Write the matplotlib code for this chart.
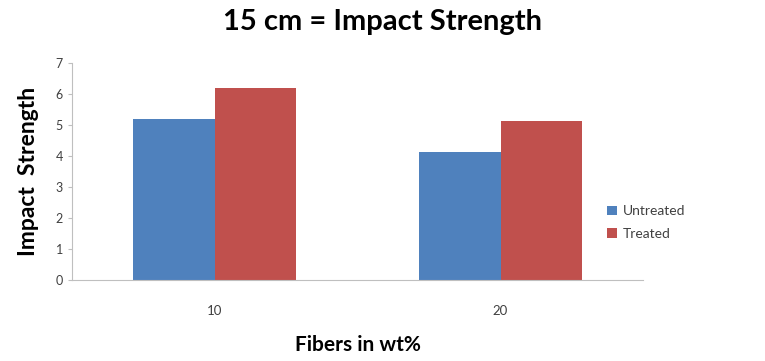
import numpy as np
import matplotlib.pyplot as plt

plt.rcParams['font.family'] = ['Lato', 'DejaVu Sans']

categories = ['10', '20']
untreated = [5.2, 4.15]
treated = [6.2, 5.15]

fig = plt.figure(figsize=(7.65, 3.61), dpi=100)
ax = fig.add_axes([0.094, 0.224, 0.747, 0.601])

x = np.arange(len(categories))
w = 0.285
ax.bar(x - w / 2, untreated, w, color='#4F81BD', label='Untreated')
ax.bar(x + w / 2, treated, w, color='#C0504D', label='Treated')

ax.set_xlim(-0.5, 1.5)
ax.set_ylim(0, 7)
ax.set_yticks(range(0, 8))
ax.set_xticks(x)
ax.set_xticklabels(categories)

for s in ['top', 'right']:
    ax.spines[s].set_visible(False)
for s in ['left', 'bottom']:
    ax.spines[s].set_color('#BFBFBF')
ax.tick_params(axis='y', colors='#BFBFBF', labelcolor='#404040', labelsize=9, length=3)
ax.tick_params(axis='x', length=0, labelcolor='#404040', labelsize=9.5, pad=18)

fig.suptitle('15 cm = Impact Strength', fontsize=21, fontweight='bold', y=0.975)
ax.set_ylabel('Impact  Strength', fontsize=16.5, fontweight='bold', labelpad=12)
ax.set_xlabel('Fibers in wt%', fontsize=15, fontweight='bold', labelpad=13)

ax.legend(loc='center left', bbox_to_anchor=(0.915, 0.265), frameon=False,
          fontsize=10, labelcolor='#404040', handlelength=0.7, handleheight=0.7,
          labelspacing=0.75, handletextpad=0.4)

fig.savefig('out.png', dpi=100)
